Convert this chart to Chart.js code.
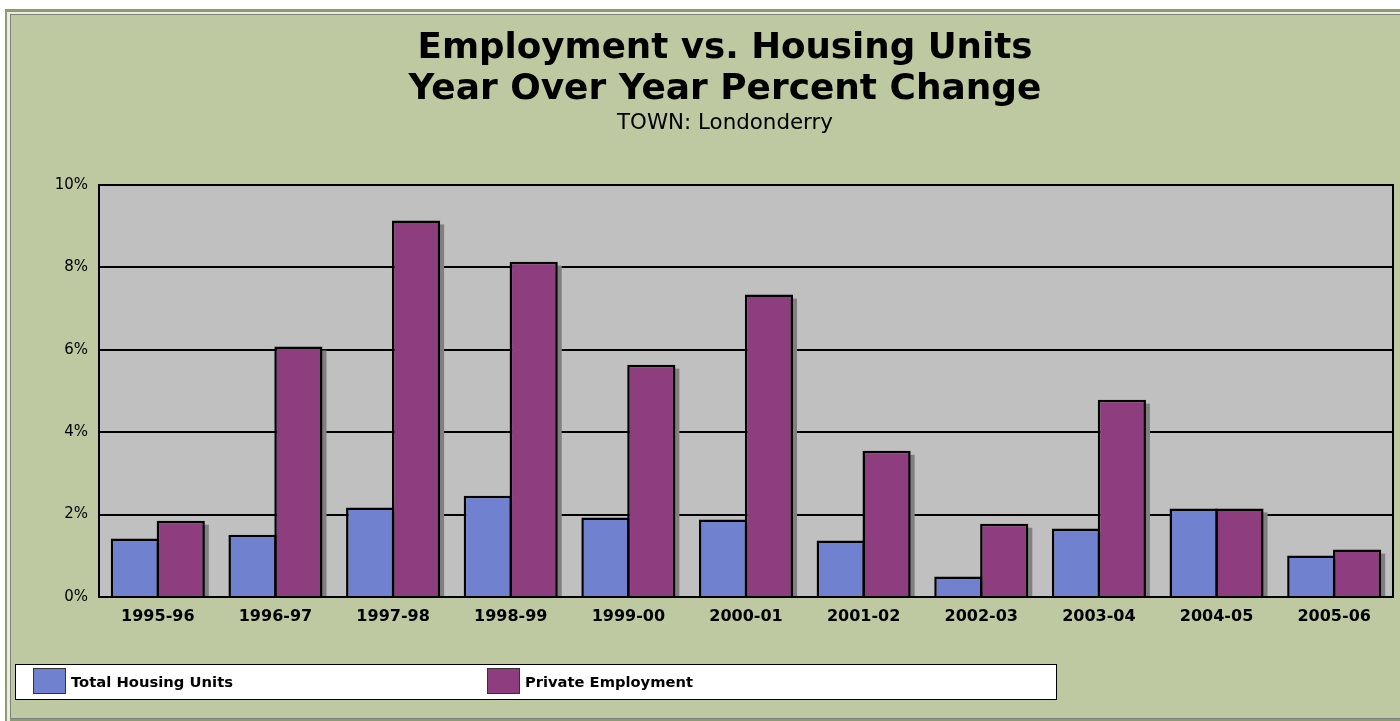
<!DOCTYPE html>
<html><head><meta charset="utf-8">
<script src="https://cdn.jsdelivr.net/npm/chart.js@4.4.1/dist/chart.umd.min.js"></script>
<style>
html,body{margin:0;padding:0;overflow:hidden;background:#ffffff;}
#wrap{position:absolute;left:0;top:0;width:1450px;height:721px;}
</style></head>
<body><div id="wrap"><canvas id="c" width="1450" height="721"></canvas></div>
<script>
const categories = ["1995-96","1996-97","1997-98","1998-99","1999-00","2000-01","2001-02","2002-03","2003-04","2004-05","2005-06"];
const housingUnits = [1.42,1.51,2.17,2.46,1.93,1.88,1.37,0.50,1.66,2.15,1.01];
const privateEmployment = [1.85,6.08,9.14,8.14,5.64,7.34,3.55,1.78,4.79,2.15,1.15];
const yTicks = [0,2,4,6,8,10];
const seriesNames = ["Total Housing Units","Private Employment"];
const titleLines = ["Employment vs. Housing Units","Year Over Year Percent Change"];
const subtitleText = "TOWN: Londonderry";

const BG = '#BEC9A2';
const PLOT_BG = '#C0C0C0';
const FAM = '"DejaVu Sans", Verdana, sans-serif';

function fitText(ctx, text, weight, target){
  ctx.font = weight + ' 20px ' + FAM;
  const w = ctx.measureText(text).width;
  const size = 20 * target / w;
  ctx.font = weight + ' ' + size.toFixed(2) + 'px ' + FAM;
}

const framePlugin = {
  id:'frame',
  beforeDraw(chart){
    const ctx = chart.ctx, W = chart.width, H = chart.height;
    ctx.save();
    ctx.fillStyle = '#ffffff'; ctx.fillRect(0,0,W,H);
    ctx.fillStyle = '#8C9C6C'; ctx.fillRect(5,9,W,H);
    ctx.fillStyle = '#E8EDDC'; ctx.fillRect(7,12,W,H);
    ctx.fillStyle = '#7F7F7F'; ctx.fillRect(10,14,W,H);
    ctx.fillStyle = BG; ctx.fillRect(11,15,W,H-15-3);
    ctx.fillStyle = '#8C9C6C'; ctx.fillRect(10,H-2,W,2);
    const a = chart.chartArea;
    ctx.fillStyle = PLOT_BG; ctx.fillRect(a.left,a.top,a.right-a.left,a.bottom-a.top);
    ctx.fillStyle = '#000'; ctx.textAlign='center'; ctx.textBaseline='alphabetic';
    fitText(ctx, titleLines[0], 'bold', 615);
    ctx.fillText(titleLines[0], 725, 58);
    fitText(ctx, titleLines[1], 'bold', 633);
    ctx.fillText(titleLines[1], 725, 99);
    fitText(ctx, subtitleText, 'normal', 216);
    ctx.fillText(subtitleText, 725, 129);
    ctx.restore();
  },
  beforeDatasetsDraw(chart){
    const ctx = chart.ctx;
    ctx.save();
    ctx.fillStyle = '#808080';
    chart.data.datasets.forEach((ds,i)=>{
      chart.getDatasetMeta(i).data.forEach(bar=>{
        const p = bar.getProps(['x','y','base','width'],true);
        const l = p.x - p.width/2;
        ctx.fillRect(l+4, p.y+4, p.width, p.base-p.y-4);
      });
    });
    ctx.restore();
  },
  afterDatasetsDraw(chart){
    const ctx = chart.ctx, a = chart.chartArea;
    ctx.save();
    ctx.strokeStyle='#000'; ctx.lineWidth=2;
    ctx.strokeRect(a.left,a.top,a.right-a.left,a.bottom-a.top);
    ctx.restore();
  },
  afterDraw(chart){
    const ctx = chart.ctx;
    ctx.save();
    ctx.fillStyle='#ffffff'; ctx.fillRect(15,664,1042,36);
    ctx.strokeStyle='#000'; ctx.lineWidth=1;
    ctx.strokeRect(15.5,664.5,1041,35);
    const xs=[33,487];
    const tw=[162,168];
    ctx.textBaseline='middle'; ctx.textAlign='left';
    chart.data.datasets.forEach((ds,i)=>{
      ctx.fillStyle=ds.backgroundColor;
      ctx.fillRect(xs[i],668,33,26);
      ctx.strokeStyle='#333'; ctx.strokeRect(xs[i]+0.5,668.5,32,25);
      ctx.fillStyle='#000';
      fitText(ctx, ds.label, 'bold', tw[i]);
      ctx.fillText(ds.label, xs[i]+38, 683);
    });
    ctx.restore();
  }
};

new Chart(document.getElementById('c'),{
  type:'bar',
  data:{
    labels:categories,
    datasets:[
      {label:seriesNames[0],data:housingUnits,backgroundColor:'#6F81CF',borderColor:'#000',borderWidth:2.5,borderSkipped:'bottom'},
      {label:seriesNames[1],data:privateEmployment,backgroundColor:'#8E3D7E',borderColor:'#000',borderWidth:2.5,borderSkipped:'bottom'}
    ]
  },
  options:{
    responsive:false,animation:false,
    layout:{padding:{left:0,right:57,top:185,bottom:0}},
    plugins:{legend:{display:false},title:{display:false},tooltip:{enabled:false}},
    datasets:{bar:{categoryPercentage:0.78,barPercentage:1.05}},
    scales:{
      x:{
        grid:{display:false,drawTicks:false},
        border:{display:false},
        ticks:{color:'#000',font:{family:FAM,size:16,weight:'bold'},padding:10,maxRotation:0},
        afterFit(s){s.height=124;}
      },
      y:{
        min:0,max:10,
        afterBuildTicks(s){s.ticks=yTicks.map(v=>({value:v}));},
        grid:{color:'#000',lineWidth:2,drawTicks:false},
        border:{display:false},
        ticks:{color:'#000',font:{family:FAM,size:15},padding:11,callback:v=>v+'%'},
        afterFit(s){s.width=99;}
      }
    }
  },
  plugins:[framePlugin]
});
</script></body></html>
